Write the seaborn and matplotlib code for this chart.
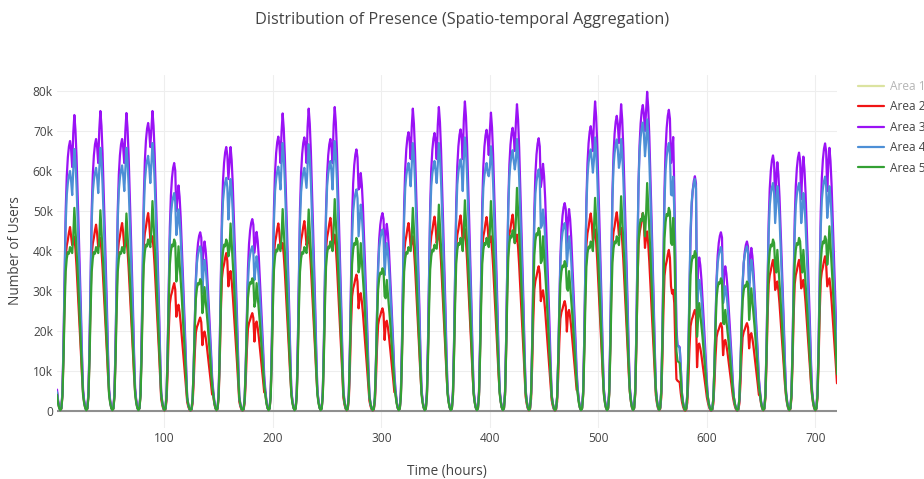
import matplotlib
import matplotlib.pyplot as plt
import numpy as np
import pandas as pd
import seaborn as sns
from matplotlib.lines import Line2D
from matplotlib.ticker import FuncFormatter

matplotlib.use("Agg")

# --- Data (in thousands of users) ---
# one entry per day (30 days): morning peak, midday dip, afternoon peak
AREA2_AM = [46, 46.6, 47, 49.5, 32, 23.4, 39.5, 24.5, 46.9, 47.5, 48.3, 34.1, 25.7, 47, 48.6,
            48.9, 48.5, 49.1, 36.2, 27.5, 49.4, 49.7, 49.5, 40.3, 25.3, 22, 22, 37.8, 37.8, 38.7]
AREA2_DIP = [41.5, 41, 41, 43, 23.6, 16.5, 31.2, 17.4, 41.2, 41.5, 40.8, 25.7, 17.8, 41, 42,
             42, 42, 42, 27.5, 19.9, 42.4, 44, 40.8, 31.2, 11, 14, 15.7, 30.3, 30.7, 31.2]
AREA2_PM = [43.6, 43.3, 43.3, 43.7, 26.6, 19.9, 35, 22.4, 42, 43.7, 44.1, 29.5, 22.6, 43.7, 45,
            45.5, 43.7, 44.1, 30.2, 25.3, 45.4, 45.8, 44.9, 30.3, 16.9, 17.8, 19.5, 32.4, 32.8, 33.2]

AREA3_AM = [67.5, 68, 68, 72, 62, 44.7, 66, 48, 68.6, 68.4, 68, 65.4, 49.5, 69.7, 69.5,
            70.4, 70.3, 70.8, 68.2, 52, 71.2, 73.8, 76.5, 75.3, 58.7, 44.7, 42.4, 63.9, 64.6, 66.9]
AREA3_DIP = [61, 62, 62, 66, 50, 36, 58, 39.6, 62, 62, 62, 55.4, 39.6, 63, 63,
             63, 64, 65, 56, 42, 65, 67, 70, 62, 24.5, 28, 32, 52, 53, 55]
AREA3_PM = [74, 75, 74.5, 75, 56.4, 42.4, 66, 44.8, 74.4, 75.6, 76, 59.5, 46.8, 75.6, 76,
            77.4, 74.6, 76.7, 61.8, 50.5, 77.4, 76.7, 79.8, 68.5, 38.4, 36.2, 40.8, 62.2, 63.6, 65.8]

AREA4_AM = [60, 60.8, 61.4, 63.8, 54.5, 41.2, 58.3, 41.2, 61.1, 60.8, 62.5, 55.4, 45.4, 62, 62.5,
            62.9, 62, 65.2, 60.4, 47, 65.4, 67.9, 72.1, 67, 58, 41, 41.2, 57, 57, 58.6]
AREA4_DIP = [54, 54.5, 55, 57, 44, 29.5, 47.9, 32.8, 55.4, 55.8, 55.4, 43.7, 34, 56.2, 57,
             55, 58.7, 60.4, 45.8, 36.2, 59.6, 60.8, 63.7, 54.1, 24, 27, 28.7, 47, 47, 48.3]
AREA4_PM = [65.5, 65.8, 65.8, 67, 50.4, 37.8, 58, 38.7, 67, 66.7, 67.5, 51.6, 42, 67, 67,
            68.4, 66.2, 68, 50.4, 43.7, 68.4, 68, 72.9, 58.6, 32.8, 31.2, 37.8, 56.2, 54.5, 56.2]

AREA5_AM = [41, 41, 41, 42.9, 42.9, 33, 42.9, 33.2, 41.6, 41, 42.4, 43.3, 35.7, 41, 41.6,
            43.3, 43.3, 45.2, 45.8, 37.5, 42.4, 43.7, 49.5, 50.8, 40, 33.2, 32.4, 42.9, 43.3, 43.7]
AREA5_DIP = [39.5, 39.5, 39.5, 41, 32.4, 24.5, 38.7, 26.1, 40, 39.5, 40, 34.7, 28.7, 40, 40.6,
             40, 41, 42, 37, 30.7, 40, 41.5, 43.7, 42, 18.6, 22, 22.8, 36.2, 37.4, 36.6]
AREA5_PM = [50.8, 50.2, 49.4, 52.5, 41.2, 31, 46.9, 32, 50.5, 50.4, 53, 42, 32.8, 50.8, 51.6,
            52.7, 52.5, 55.8, 43.7, 35, 53.3, 53.7, 57, 48.3, 27, 25.3, 30.7, 40.3, 40.3, 46.2]

# daily shape read from a weekday: hours 0-13 as share of the morning peak,
# hours 15-23 as share of the afternoon peak (hour 14 is the dip itself)
AREA2_RISE = [0.10, 0.05, 0.018, 0.006, 0.014, 0.085, 0.31, 0.62, 0.84, 0.90, 0.93, 0.97, 1.00, 0.95]
AREA2_FALL = [0.97, 1.00, 0.93, 0.83, 0.71, 0.58, 0.46, 0.34, 0.21]
AREA3_RISE = [0.08, 0.04, 0.015, 0.005, 0.012, 0.07, 0.25, 0.50, 0.74, 0.87, 0.94, 0.98, 1.00, 0.97]
AREA3_FALL = [0.94, 1.00, 0.95, 0.86, 0.74, 0.61, 0.48, 0.35, 0.20]
AREA4_RISE = [0.08, 0.04, 0.015, 0.005, 0.012, 0.075, 0.27, 0.54, 0.78, 0.90, 0.95, 0.98, 1.00, 0.96]
AREA4_FALL = [0.92, 1.00, 0.95, 0.86, 0.74, 0.61, 0.48, 0.35, 0.20]
AREA5_RISE = [0.10, 0.05, 0.02, 0.006, 0.015, 0.09, 0.32, 0.62, 0.85, 0.93, 0.97, 0.96, 1.00, 0.98]
AREA5_FALL = [0.86, 1.00, 0.90, 0.80, 0.69, 0.57, 0.45, 0.33, 0.20]

# day 24 breaks off in the evening (hours 17-23)
BREAK_DAY = 23
BREAK_HOUR = 17
AREA2_BREAK = [27, 16, 8.0, 7.6, 7.4, 7.2, 4.5]
AREA3_BREAK = [56, 38, 21, 16.5, 16.3, 16.0, 11]
AREA4_BREAK = [50, 34, 19, 16.3, 16.1, 15.8, 11]
AREA5_BREAK = [42, 28, 15, 12.5, 12.3, 12.0, 8]

AREAS = ["Area 1", "Area 2", "Area 3", "Area 4", "Area 5"]
COLORS = {
    "Area 1": "#dbe3a0",
    "Area 2": "#f01414",
    "Area 3": "#9a12f5",
    "Area 4": "#4d8fd6",
    "Area 5": "#33a033",
}


def build_series(am, dip, pm, rise, fall, brk):
    vals = []
    for d in range(len(am)):
        day = [r * am[d] for r in rise] + [dip[d]] + [f * pm[d] for f in fall]
        if d == BREAK_DAY:
            day[BREAK_HOUR:] = brk
        vals.extend(day)
    return np.array(vals) * 1000


series = {
    "Area 2": build_series(AREA2_AM, AREA2_DIP, AREA2_PM, AREA2_RISE, AREA2_FALL, AREA2_BREAK),
    "Area 3": build_series(AREA3_AM, AREA3_DIP, AREA3_PM, AREA3_RISE, AREA3_FALL, AREA3_BREAK),
    "Area 4": build_series(AREA4_AM, AREA4_DIP, AREA4_PM, AREA4_RISE, AREA4_FALL, AREA4_BREAK),
    "Area 5": build_series(AREA5_AM, AREA5_DIP, AREA5_PM, AREA5_RISE, AREA5_FALL, AREA5_BREAK),
}
hours = np.arange(1, len(series["Area 2"]) + 1)

df = pd.concat(
    [pd.DataFrame({"hour": hours, "users": v, "area": k}) for k, v in series.items()],
    ignore_index=True,
)

sns.set_theme(style="white")
plt.rcParams["font.family"] = ["Open Sans", "DejaVu Sans"]
TEXT = "#444444"

fig = plt.figure(figsize=(9.24, 4.79), dpi=100)
ax = fig.add_axes([57 / 924, 1 - 428 / 479, 780 / 924, 353 / 479])

sns.lineplot(
    data=df, x="hour", y="users", hue="area",
    hue_order=AREAS[1:], palette=COLORS,
    linewidth=1.6, estimator=None, legend=False, ax=ax,
)

ax.set_xlim(1, 720)
ax.set_ylim(-4200, 84000)
ax.set_xticks(range(100, 701, 100))
ax.set_yticks(range(0, 80001, 10000))
ax.yaxis.set_major_formatter(FuncFormatter(lambda v, _: "0" if v == 0 else f"{int(v / 1000)}k"))
ax.grid(True, color="#eeeeee", linewidth=0.8)
ax.set_axisbelow(True)
ax.axhline(0, color="#8f8f8f", linewidth=1.5, zorder=1.5)
for s in ax.spines.values():
    s.set_visible(False)
ax.tick_params(length=0, labelsize=8.6, labelcolor=TEXT, pad=3)
ax.set_xlabel("")
ax.set_ylabel("")

fig.text(0.5, 1 - 20 / 479, "Distribution of Presence (Spatio-temporal Aggregation)",
         ha="center", va="center", fontsize=11.7, color=TEXT)
fig.text(447 / 924, 1 - 472 / 479, "Time (hours)", ha="center", va="center",
         fontsize=9.8, color=TEXT)
fig.text(16 / 924, 1 - 251 / 479, "Number of Users", ha="center", va="center",
         rotation=90, fontsize=9.8, color=TEXT)

handles = [Line2D([0], [0], color=COLORS[a], linewidth=1.6) for a in AREAS]
leg = fig.legend(
    handles, AREAS, loc="upper left", bbox_to_anchor=(858 / 924, 1 - 80 / 479),
    frameon=False, fontsize=8.6, handlelength=2.2, handletextpad=0.45,
    labelspacing=0.62, borderaxespad=0, borderpad=0,
)
for i, t in enumerate(leg.get_texts()):
    t.set_color("#b5b5b5" if i == 0 else TEXT)

fig.savefig("out.png", dpi=100)
plt.close(fig)
